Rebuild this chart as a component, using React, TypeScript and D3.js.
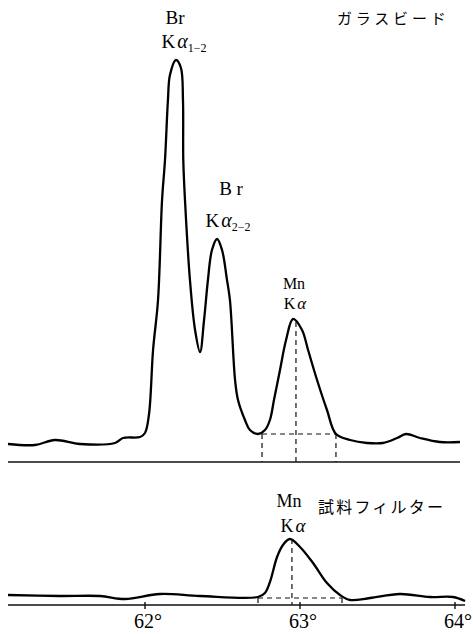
import React, { useEffect, useRef } from 'react';
import * as d3 from 'd3';

// 2θ (deg) and intensity, glass bead sample
const glassDeg = [61.116, 61.29, 61.419, 61.581, 61.806, 61.858, 61.968, 62.0, 62.026, 62.052, 62.084, 62.11, 62.129, 62.148, 62.161, 62.2, 62.232, 62.245, 62.247, 62.258, 62.29, 62.323, 62.355, 62.381, 62.406, 62.432, 62.465, 62.497, 62.529, 62.548, 62.581, 62.6, 62.645, 62.677, 62.729, 62.774, 62.806, 62.832, 62.871, 62.91, 62.955, 63.013, 63.052, 63.11, 63.174, 63.232, 63.323, 63.432, 63.535, 63.626, 63.684, 63.774, 63.903, 64.032];
const glassInt = [4.5, 4.25, 5.5, 4.5, 4.75, 6.0, 6.25, 7.25, 12, 28, 40.5, 65.5, 75.5, 90.5, 96.75, 100.5, 98.5, 90.5, 75.5, 65.5, 45.5, 33, 27.5, 35.5, 45.5, 53, 55.75, 53, 45.5, 40.5, 20.5, 15.5, 10.5, 8, 7, 8, 10.5, 15.5, 23, 30.5, 35.75, 33, 28, 20.5, 13, 7, 5.5, 4.75, 4.75, 6, 7, 6, 5, 5];

// sample filter
const filterDeg = [61.116, 61.452, 61.71, 61.871, 62.097, 62.355, 62.729, 62.774, 62.806, 62.852, 62.89, 62.935, 63.0, 63.084, 63.174, 63.258, 63.323, 63.452, 63.645, 63.839, 63.987, 64.065];
const filterInt = [2.5, 2.25, 2.25, 1.5, 2.75, 2.25, 2, 3, 5.75, 12, 15, 16.5, 14.5, 10.5, 5.5, 2.5, 1.25, 1.75, 2.75, 2, 2, 1];

const tickDeg = [62, 63, 64];
const tickLabels = ['62°', '63°', '64°'];

// dashed background / peak construction lines
const glassBg = { from: 62.755, to: 63.232, level: 7, peakDeg: 62.974, peakInt: 35 };
const filterBg = { from: 62.729, to: 63.271, level: 1.75, peakDeg: 62.948, peakInt: 16.5 };

const serif = '"Liberation Serif", "DejaVu Serif", serif';
const jp = '"Noto Sans CJK JP", sans-serif';

export default function App() {
  const ref = useRef<SVGSVGElement>(null);

  useEffect(() => {
    const svg = d3.select(ref.current);
    svg.selectAll('*').remove();

    const x = d3.scaleLinear().domain([62, 64]).range([145, 455]);
    const yTop = d3.scaleLinear().domain([0, 100]).range([462, 62]);
    const yBot = d3.scaleLinear().domain([0, 20]).range([605, 525]);

    const drawPanel = (degs: number[], ints: number[], y: d3.ScaleLinear<number, number>, axisEnd: number, bg: any) => {
      const g = svg.append('g');
      g.append('line')
        .attr('x1', x(61.116)).attr('x2', x(axisEnd))
        .attr('y1', y(0)).attr('y2', y(0))
        .attr('stroke', '#111').attr('stroke-width', 1.6);

      const dash = '5,4';
      g.append('line')
        .attr('x1', x(bg.from)).attr('x2', x(bg.to))
        .attr('y1', y(bg.level)).attr('y2', y(bg.level))
        .attr('stroke', '#111').attr('stroke-width', 1.2).attr('stroke-dasharray', dash);
      [bg.from, bg.to].forEach((d: number) => {
        g.append('line')
          .attr('x1', x(d)).attr('x2', x(d))
          .attr('y1', y(bg.level)).attr('y2', y(0))
          .attr('stroke', '#111').attr('stroke-width', 1.2).attr('stroke-dasharray', dash);
      });
      g.append('line')
        .attr('x1', x(bg.peakDeg)).attr('x2', x(bg.peakDeg))
        .attr('y1', y(bg.peakInt)).attr('y2', y(0))
        .attr('stroke', '#111').attr('stroke-width', 1.2).attr('stroke-dasharray', dash);

      const line = d3.line<number>()
        .x((_, i) => x(degs[i]))
        .y(v => y(v))
        .curve(d3.curveCatmullRom.alpha(0.5));
      g.append('path')
        .attr('d', line(ints))
        .attr('fill', 'none')
        .attr('stroke', '#000')
        .attr('stroke-width', 2.3)
        .attr('stroke-linejoin', 'round');
    };

    drawPanel(glassDeg, glassInt, yTop, 64.032, glassBg);
    drawPanel(filterDeg, filterInt, yBot, 64.065, filterBg);

    const ax = svg.append('g');
    tickDeg.forEach((d, i) => {
      ax.append('line')
        .attr('x1', x(d)).attr('x2', x(d))
        .attr('y1', yBot(0) - 3).attr('y2', yBot(0) + 4)
        .attr('stroke', '#111').attr('stroke-width', 1.4);
      ax.append('text')
        .attr('x', x(d) + 3).attr('y', 628)
        .attr('text-anchor', 'middle')
        .attr('font-family', serif).attr('font-size', 20)
        .text(tickLabels[i]);
    });

    // element name over "Kα" (+ optional subscript)
    const peakLabel = (name: string, nx: number, ny: number, kx: number, ky: number, size: number, sub?: string) => {
      svg.append('text')
        .attr('x', nx).attr('y', ny)
        .attr('text-anchor', 'middle')
        .attr('font-family', serif).attr('font-size', size)
        .text(name);
      const k = svg.append('text')
        .attr('x', kx).attr('y', ky)
        .attr('text-anchor', 'middle')
        .attr('font-family', serif).attr('font-size', size);
      k.append('tspan').text('K');
      k.append('tspan').attr('dx', 2).attr('font-style', 'italic').attr('font-size', size + 1).text('α');
      if (sub) k.append('tspan').attr('font-size', 12).attr('dy', 4).text(sub);
    };

    peakLabel('Br', 175, 24, 184, 48, 19, '1−2');
    peakLabel('B r', 231, 195, 228, 227, 19, '2−2');
    peakLabel('Mn', 294, 289, 295, 309, 16);
    peakLabel('Mn', 289, 507, 293, 532, 18);

    svg.append('text')
      .attr('x', 337).attr('y', 24)
      .attr('font-family', jp).attr('font-size', 15)
      .attr('letter-spacing', 3.8)
      .text('ガラスビード');
    svg.append('text')
      .attr('x', 318).attr('y', 513)
      .attr('font-family', jp).attr('font-size', 16)
      .attr('letter-spacing', 2.2)
      .text('試料フィルター');
  }, []);

  return (
    <svg
      ref={ref}
      width={473}
      height={634}
      style={{ position: 'absolute', left: 0, top: 0, background: '#fff' }}
    />
  );
}
